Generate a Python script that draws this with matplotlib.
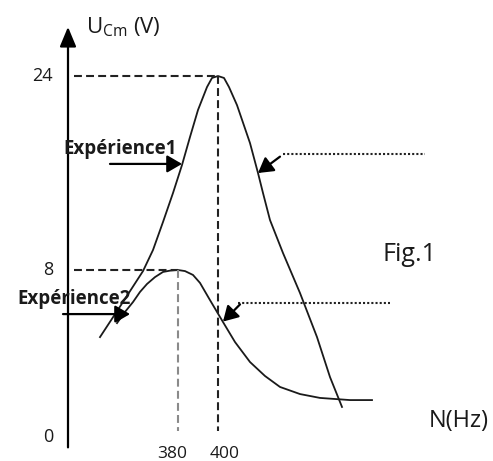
import numpy as np
import matplotlib.pyplot as plt

plt.rcParams['font.family'] = ['Open Sans', 'DejaVu Sans']
plt.rcParams['mathtext.fontset'] = 'custom'
plt.rcParams['mathtext.rm'] = 'Open Sans'

# resonance curves: frequency N (Hz) -> capacitor voltage amplitude U_Cm (V)
n_exp1 = [341, 351.5, 362.5, 367.5, 372.5, 377.5, 382, 386, 390, 394.5, 397,
          400, 403, 405.5, 409.5, 416, 420, 422.5, 426, 432.5, 441, 449.5, 456, 462]
u_exp1 = [4.88, 6.37, 7.95, 9.65, 11.96, 14.35, 16.66, 18.97, 21.2, 23.09, 23.84,
          24, 23.84, 23.09, 21.6, 18.47, 16.0, 14.35, 12.12, 9.4, 6.93, 4.88, 3.02, 1.63]

n_exp2 = [349.5, 353.5, 357.5, 361, 364.5, 368.5, 372.5, 376, 380, 383.5, 387.5,
          391, 396, 402.5, 408.5, 416, 423.5, 431, 441, 451, 466, 477]
u_exp2 = [5.53, 6.05, 6.51, 6.98, 7.35, 7.67, 7.91, 7.97, 8, 7.95, 7.77,
          7.4, 6.6, 5.58, 4.65, 3.72, 3.07, 2.56, 2.23, 2.05, 1.95, 1.95]

# resonance peaks (N0, U_max)
peak_n = [400, 380]
peak_u = [24, 8]
peak_colors = ['#222222', '#8a8a8a']

x_ticks = [380, 400]
y_ticks = [0, 8, 24]

# the drawing is not to scale on the voltage axis
u_ref = [-10, 0, 8, 24, 60]
pos_ref = [-215, 0, 172, 366, 802.5]


def fwd(u):
    return np.interp(u, u_ref, pos_ref)


def inv(p):
    return np.interp(p, pos_ref, u_ref)


fig = plt.figure(figsize=(4.93, 4.61), dpi=100)
ax = fig.add_axes([0, 0, 1, 1])
ax.set_yscale('function', functions=(fwd, inv))
ax.set_xlim(291, 537.5)
ax.set_ylim(-0.884, 30.27)
ax.axis('off')

# axes with arrows
axis_arrow = dict(arrowstyle='-|>,head_length=0.6,head_width=0.25', mutation_scale=20,
                  lw=1.6, color='black', shrinkA=0, shrinkB=0)
ax.annotate('', xy=(325, 28.05), xytext=(325, -0.25), arrowprops=axis_arrow)
ax.annotate('', xy=(541, 0), xytext=(324.5, 0), arrowprops=axis_arrow)

# curves
ax.plot(n_exp1, u_exp1, color='#1a1a1a', lw=1.3, solid_joinstyle='round')
ax.plot(n_exp2, u_exp2, color='#1a1a1a', lw=1.3, solid_joinstyle='round')

# dashed guides to the peaks
for n0, u0, c in zip(peak_n, peak_u, peak_colors):
    ax.plot([328, n0], [u0, u0], color='#222222', lw=1.5, ls=(0, (3.8, 2)))
    ax.plot([n0, n0], [u0, 0.5], color=c, lw=1.5, ls=(0, (3.8, 2)))

# tick labels
for u in y_ticks:
    ax.text(317.5, u + (0.25 if u == 0 else 0), str(u), ha='right', va='center',
            fontsize=13, color='#1a1a1a')
for n, dx in zip(x_ticks, [-2.75, 3.25]):
    ax.text(n + dx, -0.18, str(n), ha='center', va='top', fontsize=12.5, color='#1a1a1a')

ax.text(334, 28.0, r'$\mathregular{U_{Cm}}$ (V)', ha='left', va='center',
        fontsize=16, color='#1a1a1a')
ax.text(520.5, 0.98, 'N(Hz)', ha='center', va='center', fontsize=17, color='#1a1a1a')
ax.text(495.75, 9.24, 'Fig.1', ha='center', va='center', fontsize=18, color='#1a1a1a')

ax.text(351, 18.0, 'Expérience1', ha='center', va='center', fontsize=13.5,
        fontweight='bold', color='#1a1a1a')
ax.text(328, 6.63, 'Expérience2', ha='center', va='center', fontsize=13.5,
        fontweight='bold', color='#1a1a1a')

# pointer arrows
ptr = dict(arrowstyle='-|>,head_length=0.6,head_width=0.35', mutation_scale=15,
           lw=1.6, color='black', shrinkA=0, shrinkB=0)
ax.annotate('', xy=(382, 16.75), xytext=(346, 16.75), arrowprops=ptr)
ax.annotate('', xy=(356, 5.95), xytext=(322.5, 5.95), arrowprops=ptr)
ax.annotate('', xy=(420, 16.0), xytext=(431, 17.35), arrowprops=ptr)
ax.annotate('', xy=(402.5, 5.6), xytext=(411, 6.4), arrowprops=ptr)

# dotted leader lines
ax.plot([432.5, 503.5], [17.57, 17.57], color='#222222', lw=1.5, ls=(0, (1, 1)))
ax.plot([410, 486], [6.47, 6.47], color='#222222', lw=1.5, ls=(0, (1, 1)))

fig.savefig('out.png', dpi=100)
